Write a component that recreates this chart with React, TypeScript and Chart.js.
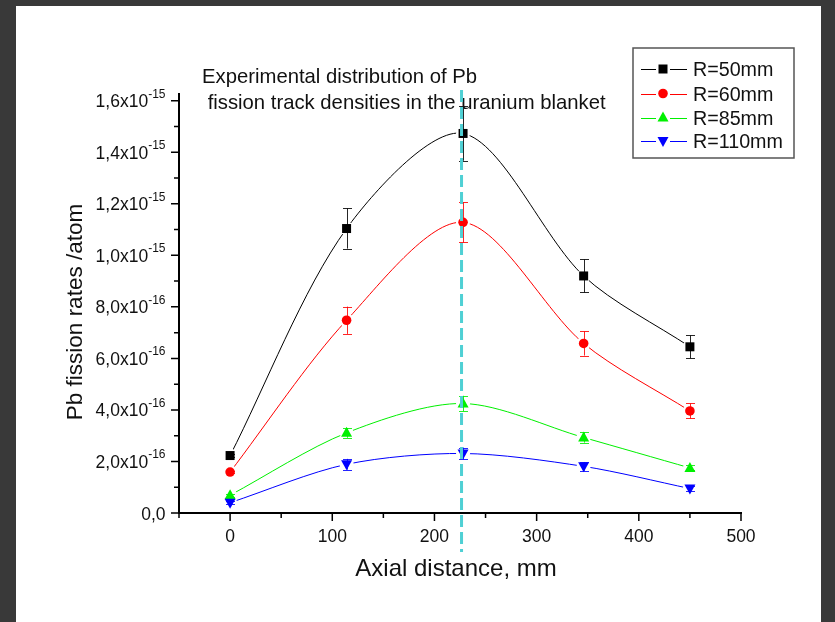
import React, { useEffect, useRef } from 'react';
import { Chart, registerables } from 'chart.js';

Chart.register(...registerables);

// ---------- data ----------
const axialDistance = [0, 114, 228, 346, 450];

const seriesLabels = ['R=50mm', 'R=60mm', 'R=85mm', 'R=110mm'];
const r50 = [2.23e-16, 11.04e-16, 14.73e-16, 9.2e-16, 6.45e-16];
const r50Err = [0.06e-16, 0.78e-16, 1.06e-16, 0.64e-16, 0.44e-16];
const r60 = [1.59e-16, 7.48e-16, 11.28e-16, 6.58e-16, 3.96e-16];
const r60Err = [0.05e-16, 0.53e-16, 0.78e-16, 0.47e-16, 0.29e-16];
const r85 = [0.69e-16, 3.11e-16, 4.25e-16, 2.93e-16, 1.75e-16];
const r85Err = [0.05e-16, 0.19e-16, 0.3e-16, 0.2e-16, 0.1e-16];
const r110 = [0.40e-16, 1.89e-16, 2.31e-16, 1.81e-16, 0.95e-16];
const r110Err = [0.05e-16, 0.21e-16, 0.23e-16, 0.17e-16, 0.1e-16];

const seriesColors = ['#000000', '#ff0000', '#00f000', '#0000ff'];
const seriesMarkers = ['square', 'circle', 'triangleUp', 'triangleDown'];

const xTickValues = [0, 100, 200, 300, 400, 500];
const xTickLabels = ['0', '100', '200', '300', '400', '500'];
const xMinorTicks = [-50, 50, 150, 250, 350, 450];

const yTickValues = [0, 2e-16, 4e-16, 6e-16, 8e-16, 10e-16, 12e-16, 14e-16, 16e-16];
const yTickMain = ['0,0', '2,0x10', '4,0x10', '6,0x10', '8,0x10', '1,0x10', '1,2x10', '1,4x10', '1,6x10'];
const yTickExp = ['', '-16', '-16', '-16', '-16', '-15', '-15', '-15', '-15'];
const yMinorTicks = [1e-16, 3e-16, 5e-16, 7e-16, 9e-16, 11e-16, 13e-16, 15e-16];

const xAxisTitle = 'Axial distance, mm';
const yAxisTitle = 'Pb fission rates /atom';
const noteLines = ['Experimental distribution of Pb', ' fission track densities in the uranium blanket'];
const markerLineX = 226.5;

const seriesValues = [r50, r60, r85, r110];
const seriesErrors = [r50Err, r60Err, r85Err, r110Err];

const W = 835;
const H = 622;
const FONT = '"Liberation Sans", Arial, sans-serif';

function drawMarker(ctx: CanvasRenderingContext2D, kind: string, x: number, y: number, color: string) {
  ctx.save();
  ctx.fillStyle = color;
  ctx.beginPath();
  if (kind === 'square') {
    ctx.rect(x - 4.5, y - 4.5, 9, 9);
  } else if (kind === 'circle') {
    ctx.arc(x, y, 4.8, 0, Math.PI * 2);
  } else if (kind === 'triangleUp') {
    ctx.moveTo(x, y - 6);
    ctx.lineTo(x + 5.5, y + 4);
    ctx.lineTo(x - 5.5, y + 4);
    ctx.closePath();
  } else {
    ctx.moveTo(x, y + 6);
    ctx.lineTo(x + 5.5, y - 4);
    ctx.lineTo(x - 5.5, y - 4);
    ctx.closePath();
  }
  ctx.fill();
  ctx.restore();
}

const customPlugin = {
  id: 'originStyle',
  beforeDraw(chart: any) {
    const ctx = chart.ctx as CanvasRenderingContext2D;
    ctx.save();
    ctx.fillStyle = '#ffffff';
    ctx.fillRect(0, 0, W, H);
    ctx.restore();
  },
  afterDatasetsDraw(chart: any) {
    const ctx = chart.ctx as CanvasRenderingContext2D;
    const ys = chart.scales.y;
    // halos (gaps in line around markers)
    chart.data.datasets.forEach((_: any, di: number) => {
      const meta = chart.getDatasetMeta(di);
      meta.data.forEach((pt: any) => {
        ctx.save();
        ctx.fillStyle = '#ffffff';
        ctx.beginPath();
        ctx.arc(pt.x, pt.y, 7, 0, Math.PI * 2);
        ctx.fill();
        ctx.restore();
      });
    });
    // error bars
    chart.data.datasets.forEach((_: any, di: number) => {
      const meta = chart.getDatasetMeta(di);
      meta.data.forEach((pt: any, i: number) => {
        const v = seriesValues[di][i];
        const e = seriesErrors[di][i];
        const top = ys.getPixelForValue(v + e);
        const bot = ys.getPixelForValue(v - e);
        const x = Math.round(pt.x) + 0.5;
        ctx.save();
        ctx.strokeStyle = seriesColors[di];
        ctx.globalAlpha = 0.85;
        ctx.lineWidth = 1;
        ctx.beginPath();
        ctx.moveTo(x, top);
        ctx.lineTo(x, bot);
        ctx.moveTo(x - 4.5, Math.round(top) + 0.5);
        ctx.lineTo(x + 4.5, Math.round(top) + 0.5);
        ctx.moveTo(x - 4.5, Math.round(bot) + 0.5);
        ctx.lineTo(x + 4.5, Math.round(bot) + 0.5);
        ctx.stroke();
        ctx.restore();
      });
    });
    // markers
    chart.data.datasets.forEach((_: any, di: number) => {
      const meta = chart.getDatasetMeta(di);
      meta.data.forEach((pt: any) => {
        drawMarker(ctx, seriesMarkers[di], pt.x, pt.y, seriesColors[di]);
      });
    });
  },
  afterDraw(chart: any) {
    const ctx = chart.ctx as CanvasRenderingContext2D;
    const xs = chart.scales.x;
    const ys = chart.scales.y;
    const area = chart.chartArea;
    const axisY = ys.getPixelForValue(0);
    const axisX = xs.getPixelForValue(-50);

    ctx.save();
    ctx.strokeStyle = '#000';
    ctx.lineWidth = 2;
    ctx.beginPath();
    ctx.moveTo(axisX, area.top);
    ctx.lineTo(axisX, axisY);
    ctx.lineTo(xs.getPixelForValue(500) + 1, axisY);
    ctx.stroke();

    ctx.lineWidth = 1.5;
    ctx.beginPath();
    xTickValues.forEach((v) => {
      const px = xs.getPixelForValue(v);
      ctx.moveTo(px, axisY);
      ctx.lineTo(px, axisY + 8);
    });
    xMinorTicks.forEach((v) => {
      const px = xs.getPixelForValue(v);
      ctx.moveTo(px, axisY);
      ctx.lineTo(px, axisY + 5);
    });
    yTickValues.forEach((v) => {
      const py = ys.getPixelForValue(v);
      ctx.moveTo(axisX, py);
      ctx.lineTo(axisX - 8, py);
    });
    yMinorTicks.forEach((v) => {
      const py = ys.getPixelForValue(v);
      ctx.moveTo(axisX, py);
      ctx.lineTo(axisX - 5, py);
    });
    ctx.stroke();

    // x tick labels
    ctx.fillStyle = '#111';
    ctx.font = `17.5px ${FONT}`;
    ctx.textAlign = 'center';
    ctx.textBaseline = 'alphabetic';
    xTickValues.forEach((v, i) => {
      ctx.fillText(xTickLabels[i], xs.getPixelForValue(v), axisY + 29);
    });

    // y tick labels with superscripts
    const rightEdge = 165.5;
    yTickValues.forEach((v, i) => {
      const py = ys.getPixelForValue(v);
      ctx.font = `12px ${FONT}`;
      const ew = yTickExp[i] ? ctx.measureText(yTickExp[i]).width : 0;
      ctx.textAlign = 'left';
      if (yTickExp[i]) ctx.fillText(yTickExp[i], rightEdge - ew, py - 3);
      ctx.font = `17.5px ${FONT}`;
      ctx.textAlign = 'right';
      ctx.fillText(yTickMain[i], rightEdge - ew, py + 6.5);
    });

    // axis titles
    ctx.font = `24px ${FONT}`;
    ctx.textAlign = 'center';
    ctx.fillText(xAxisTitle, 456, 576);
    ctx.save();
    ctx.translate(81.5, 312);
    ctx.rotate(-Math.PI / 2);
    ctx.font = `22.5px ${FONT}`;
    ctx.fillText(yAxisTitle, 0, 0);
    ctx.restore();

    // note text
    ctx.font = `20.3px ${FONT}`;
    ctx.textAlign = 'left';
    ctx.fillText(noteLines[0], 202, 83);
    ctx.fillText(noteLines[1], 202, 109);

    // legend
    ctx.fillStyle = '#fff';
    ctx.fillRect(633, 48, 161, 110);
    ctx.strokeStyle = '#555';
    ctx.lineWidth = 1.5;
    ctx.strokeRect(633, 48, 161, 110);
    const legendY = [69, 93.5, 117.5, 141];
    seriesLabels.forEach((lab, i) => {
      const y = legendY[i];
      ctx.strokeStyle = seriesColors[i];
      ctx.lineWidth = 1;
      ctx.beginPath();
      ctx.moveTo(641, Math.round(y) + 0.5);
      ctx.lineTo(656, Math.round(y) + 0.5);
      ctx.moveTo(670, Math.round(y) + 0.5);
      ctx.lineTo(687, Math.round(y) + 0.5);
      ctx.stroke();
      drawMarker(ctx, seriesMarkers[i], 663, y, seriesColors[i]);
      ctx.fillStyle = '#111';
      ctx.font = `19.7px ${FONT}`;
      ctx.textAlign = 'left';
      ctx.fillText(lab, 693, y + 7);
    });

    // cyan dashed marker line
    const mx = xs.getPixelForValue(markerLineX);
    ctx.strokeStyle = '#4fd0d4';
    ctx.lineWidth = 3;
    ctx.setLineDash([12, 5]);
    ctx.beginPath();
    ctx.moveTo(mx, 90);
    ctx.lineTo(mx, 552);
    ctx.stroke();
    ctx.setLineDash([]);

    // dark frame
    ctx.fillStyle = '#393939';
    ctx.fillRect(0, 0, W, 6);
    ctx.fillRect(0, 0, 16, H);
    ctx.fillRect(821, 0, W - 821, H);
    ctx.restore();
  },
};

export default function App() {
  const ref = useRef<HTMLCanvasElement>(null);
  useEffect(() => {
    if (!ref.current) return;
    const chart = new Chart(ref.current, {
      type: 'line',
      data: {
        datasets: seriesLabels.map((label, di) => ({
          label,
          data: axialDistance.map((x, i) => ({ x, y: seriesValues[di][i] })),
          borderColor: seriesColors[di],
          backgroundColor: seriesColors[di],
          borderWidth: 1,
          pointRadius: 0,
          pointHoverRadius: 0,
          tension: 0.3,
          fill: false,
        })),
      },
      options: {
        animation: false,
        responsive: false,
        maintainAspectRatio: false,
        devicePixelRatio: 1,
        events: [],
        layout: { padding: { left: 179, right: 94, top: 93, bottom: 109 } },
        plugins: { legend: { display: false }, tooltip: { enabled: false } },
        scales: {
          x: { type: 'linear', min: -50, max: 500, display: false },
          y: { type: 'linear', min: 0, max: 1.63e-15, display: false },
        },
      },
      plugins: [customPlugin],
    } as any);
    return () => chart.destroy();
  }, []);
  return (
    <div style={{ position: 'fixed', left: 0, top: 0, width: W, height: H, background: '#fff' }}>
      <canvas ref={ref} width={W} height={H} style={{ display: 'block', width: W, height: H }} />
    </div>
  );
}
